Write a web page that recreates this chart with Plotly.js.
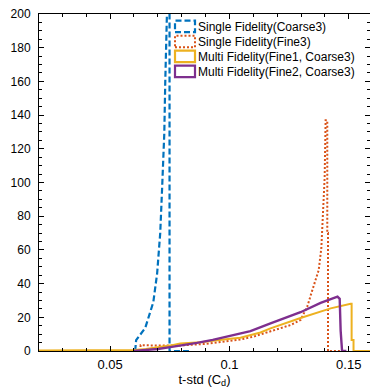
<!DOCTYPE html>
<html>
<head>
<meta charset="utf-8">
<script src="https://cdn.plot.ly/plotly-3.0.1.min.js"></script>
<style>html,body{margin:0;padding:0;background:#fff;}#chart{width:370px;height:392px;}</style>
</head>
<body>
<div id="chart"></div>
<script>
// ---- data ----
const seriesNames = [
  "Single Fidelity(Coarse3)",
  "Single Fidelity(Fine3)",
  "Multi Fidelity(Fine1, Coarse3)",
  "Multi Fidelity(Fine2, Coarse3)"
];

const coarse3X = [0.0605, 0.0609, 0.0647, 0.0681, 0.0697, 0.0710, 0.0718, 0.0727, 0.0731, 0.0740, 0.0745, 0.0749, 0.0749, 0.0836];
const coarse3Y = [0, 6.5, 13.6, 29, 46, 70, 97, 129, 159, 198, 240, 240, 0, 0];

const fine3X = [0.0626, 0.0628, 0.070, 0.080, 0.090, 0.100, 0.1046, 0.110, 0.1172, 0.1256, 0.1298, 0.1326, 0.1347, 0.1368, 0.1374, 0.1385, 0.1389, 0.1393, 0.1399, 0.1403, 0.1410, 0.1410, 0.1413, 0.1413, 0.1475];
const fine3Y = [0, 3.5, 3.2, 3.3, 4.2, 5.8, 6.8, 8.5, 11.5, 15.4, 18.4, 26.3, 36, 45, 48, 61, 76, 89.6, 103, 137, 137, 70, 70, 0, 0];

const mf1X = [0.0202, 0.055, 0.060, 0.065, 0.070, 0.075, 0.0794, 0.0878, 0.1004, 0.1046, 0.113, 0.1172, 0.1298, 0.1424, 0.1508, 0.1512, 0.1512, 0.1520, 0.1520, 0.1589];
const mf1Y = [0.3, 0.4, 0.6, 1.2, 2.0, 3.2, 4.5, 5.2, 7.3, 7.9, 11, 13.4, 19.6, 25.3, 28, 28, 6.5, 6.5, 0, 0];

const mf2X = [0.060, 0.064, 0.070, 0.0752, 0.080, 0.0864, 0.0930, 0.1004, 0.1046, 0.1088, 0.1172, 0.1256, 0.1298, 0.1382, 0.1453, 0.1462, 0.1466, 0.1472, 0.1490];
const mf2Y = [0, 0.4, 1.2, 2.3, 3.3, 4.8, 6.6, 8.9, 10.1, 11.8, 16.4, 20.5, 23, 28.5, 32.2, 31, 12, 0, 0];

const seriesColors = ["#0072BD", "#D95319", "#EDB120", "#7E2F8E"];
const seriesDash = ["6px,3px", "2px,2px", "solid", "solid"];
const seriesWidth = [2.2, 2, 2, 2.4];

const xTickVals = [0.05, 0.1, 0.15];
const xTickText = ["0.05", "0.1", "0.15"];
const yTickVals = [0, 20, 40, 60, 80, 100, 120, 140, 160, 180, 200];

// ---- build ----
const xs = [coarse3X, fine3X, mf1X, mf2X];
const ys = [coarse3Y, fine3Y, mf1Y, mf2Y];
const traces = xs.map((x, i) => ({
  x: x, y: ys[i], type: "scatter", mode: "lines", name: seriesNames[i],
  line: {color: seriesColors[i], width: seriesWidth[i], dash: seriesDash[i]},
  showlegend: false, hoverinfo: "skip", cliponaxis: true
}));

const W = 370, H = 392, M = {l: 39, r: 0, t: 14, b: 41};
const pw = W - M.l - M.r, ph = H - M.t - M.b;
const px2paperX = p => (p - M.l) / pw;
const px2paperY = p => (H - M.b - p) / ph;

const font = "Arial, 'Liberation Sans', sans-serif";
const shapes = [];
const annotations = [];
const rowTop = [20.7, 35.7, 50.7, 65.7];
seriesNames.forEach((n, i) => {
  shapes.push({
    type: "rect", xref: "paper", yref: "paper",
    x0: px2paperX(175), x1: px2paperX(195),
    y0: px2paperY(rowTop[i] + 11.5), y1: px2paperY(rowTop[i]),
    line: {color: seriesColors[i], width: i === 1 ? 2 : 2.2, dash: seriesDash[i]},
    fillcolor: "rgba(0,0,0,0)"
  });
  annotations.push({
    xref: "paper", yref: "paper", x: px2paperX(196), y: px2paperY(rowTop[i] + 6),
    xanchor: "left", yanchor: "middle", showarrow: false, text: n,
    font: {family: font, size: 12, color: "#000"}
  });
});

const axisCommon = {
  showgrid: false, zeroline: false, showline: true, linecolor: "#000", linewidth: 1,
  mirror: "ticks", ticks: "inside", ticklen: 5, tickwidth: 1, tickcolor: "#000"
};

const layout = {
  width: W, height: H, margin: M, paper_bgcolor: "#fff", plot_bgcolor: "#fff",
  showlegend: false,
  xaxis: Object.assign({}, axisCommon, {
    range: [0.0202, 0.1589], tickvals: xTickVals, ticktext: xTickText,
    tickfont: {family: font, size: 13, color: "#000"},
    minor: {dtick: 0.01, tick0: 0, ticks: "inside", ticklen: 3, tickcolor: "#000", showgrid: false},
    title: {text: "t-std (C<sub>d</sub>)", font: {family: font, size: 13, color: "#000"}, standoff: 2},
    ticklabelstandoff: 1
  }),
  yaxis: Object.assign({}, axisCommon, {
    range: [0, 200], tickvals: yTickVals,
    tickfont: {family: font, size: 12, color: "#000"},
    minor: {dtick: 5, tick0: 0, ticks: "inside", ticklen: 3, tickcolor: "#000", showgrid: false},
    ticklabelstandoff: 5
  }),
  shapes: shapes, annotations: annotations
};

Plotly.newPlot("chart", traces, layout, {displayModeBar: false, staticPlot: true});
</script>
</body>
</html>
